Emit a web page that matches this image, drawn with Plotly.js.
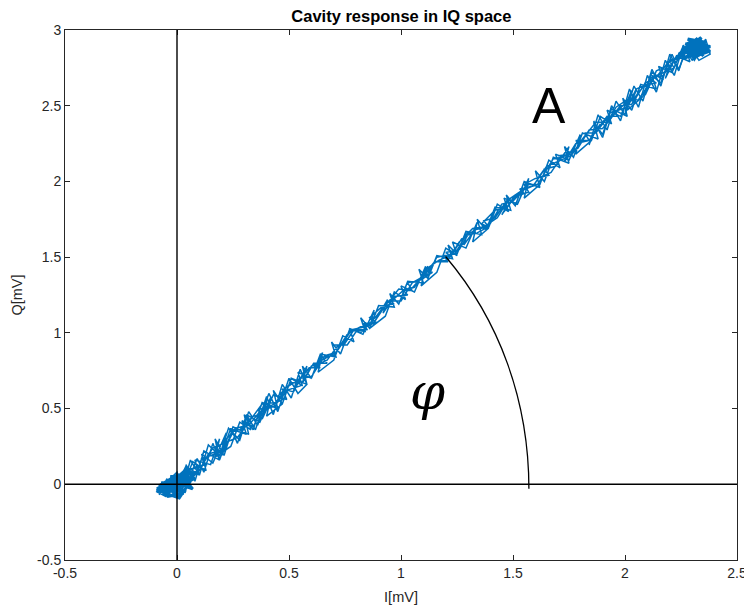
<!DOCTYPE html>
<html>
<head>
<meta charset="utf-8">
<script src="https://cdn.plot.ly/plotly-3.0.1.min.js"></script>
<style>html,body{margin:0;padding:0;background:#fff;}#chart{width:744px;height:607px;}</style>
</head>
<body>
<div id="chart"></div>
<script>
// ---- data (I, Q in mV) ----
const iOriginBlob = [-0.08,-0.04,0.03,-0.07,0.06,0.01,-0.09,0.05,-0.03,0.08,-0.06,0.02,0.07,-0.05,0.04,-0.08,0.00,0.09,-0.02,0.05,-0.07,0.03,-0.01,0.06,-0.09,0.02];
const qOriginBlob = [-0.02,-0.08,-0.06,0.01,0.02,-0.09,-0.04,0.07,0.05,0.04,-0.07,0.06,-0.03,0.03,-0.05,-0.01,0.06,0.08,-0.06,0.11,-0.05,0.03,-0.08,0.09,-0.03,0.00];

const iEndBlob = [2.25,2.36,2.28,2.38,2.30,2.34,2.24,2.37,2.27,2.35,2.31,2.38,2.26,2.33,2.36,2.29,2.23,2.32,2.37,2.28,2.35];
const qEndBlob = [2.86,2.92,2.94,2.86,2.82,2.95,2.84,2.90,2.91,2.83,2.93,2.89,2.81,2.88,2.85,2.92,2.80,2.94,2.87,2.84,2.90];

const iPassA = [0.05,0.11,0.16,0.22,0.27,0.33,0.38,0.44,0.49,0.55,0.60,0.66,0.71,0.77,0.82,0.88,0.93,0.99,1.04,1.10,1.15,1.21,1.26,1.32,1.37,1.43,1.48,1.54,1.59,1.65,1.70,1.76,1.81,1.87,1.92,1.98,2.03,2.09,2.14,2.20,2.25];
const qPassA = [0.09,0.12,0.24,0.28,0.31,0.43,0.53,0.54,0.62,0.65,0.78,0.83,0.87,1.00,1.04,1.07,1.18,1.29,1.28,1.38,1.47,1.48,1.60,1.69,1.70,1.76,1.88,1.94,1.97,2.10,2.13,2.17,2.28,2.39,2.39,2.50,2.51,2.65,2.69,2.80,2.83];

const iPassB = [2.28,2.24,2.17,2.13,2.06,2.01,1.95,1.90,1.84,1.79,1.72,1.68,1.61,1.57,1.50,1.45,1.39,1.34,1.27,1.23,1.16,1.12,1.05,1.00,0.94,0.89,0.82,0.78,0.71,0.66,0.60,0.55,0.48,0.44,0.37,0.32,0.26,0.21,0.14,0.10,0.03];
const qPassB = [2.82,2.84,2.70,2.69,2.54,2.53,2.44,2.35,2.34,2.22,2.16,2.15,1.98,1.98,1.87,1.85,1.70,1.69,1.62,1.52,1.50,1.39,1.33,1.21,1.21,1.11,1.00,1.02,0.87,0.85,0.71,0.70,0.63,0.52,0.48,0.39,0.37,0.23,0.20,0.09,0.05];

const iPassC = [0.00,0.05,0.03,0.09,0.13,0.11,0.17,0.22,0.20,0.26,0.30,0.28,0.34,0.39,0.36,0.42,0.47,0.45,0.51,0.55,0.53,0.59,0.64,0.61,0.67,0.72,0.70,0.76,0.80,0.78,0.84,0.89,0.86,0.92,0.97,0.95,1.01,1.05,1.03,1.09,1.14,1.11,1.17,1.22,1.20,1.26,1.30,1.28,1.34,1.39,1.36,1.42,1.47,1.45,1.51,1.55,1.53,1.59,1.64,1.61,1.67,1.72,1.70,1.76,1.80,1.78,1.84,1.89,1.86,1.92,1.97,1.95,2.01,2.05,2.03,2.09,2.14,2.11,2.17,2.22,2.20,2.26,2.30];
const qPassC = [0.01,0.03,0.08,0.12,0.13,0.17,0.20,0.24,0.27,0.36,0.36,0.36,0.45,0.46,0.49,0.52,0.56,0.58,0.67,0.67,0.66,0.77,0.77,0.78,0.82,0.92,0.92,0.92,1.01,1.02,1.04,1.07,1.10,1.18,1.19,1.20,1.28,1.28,1.33,1.35,1.40,1.42,1.48,1.51,1.53,1.55,1.65,1.64,1.66,1.70,1.72,1.81,1.83,1.78,1.91,1.92,1.95,1.97,2.08,2.02,2.06,2.17,2.17,2.18,2.25,2.27,2.27,2.38,2.31,2.43,2.43,2.46,2.49,2.60,2.53,2.64,2.65,2.68,2.72,2.75,2.79,2.83,2.89];

const iPassD = [2.33,2.27,2.29,2.23,2.18,2.20,2.14,2.09,2.11,2.05,2.00,2.02,1.96,1.91,1.93,1.87,1.82,1.84,1.78,1.73,1.75,1.69,1.64,1.66,1.60,1.55,1.57,1.51,1.46,1.48,1.42,1.37,1.39,1.33,1.28,1.30,1.24,1.19,1.21,1.15,1.10,1.12,1.06,1.01,1.03,0.97,0.92,0.94,0.88,0.83,0.85,0.79,0.74,0.76,0.70,0.65,0.67,0.61,0.56,0.58,0.52,0.47,0.49,0.43,0.38,0.40,0.34,0.29,0.31,0.25,0.20,0.22,0.16,0.11,0.13,0.07,0.02,0.04,-0.02];
const qPassD = [2.86,2.89,2.79,2.83,2.68,2.77,2.73,2.57,2.65,2.61,2.46,2.55,2.49,2.36,2.44,2.32,2.32,2.27,2.25,2.13,2.23,2.10,2.08,2.04,2.02,1.98,1.93,1.90,1.80,1.89,1.76,1.74,1.70,1.68,1.58,1.67,1.52,1.51,1.47,1.47,1.37,1.44,1.30,1.28,1.25,1.24,1.13,1.22,1.07,1.06,1.02,1.02,0.91,0.99,0.85,0.84,0.80,0.80,0.67,0.78,0.61,0.63,0.56,0.59,0.43,0.55,0.38,0.42,0.33,0.36,0.19,0.34,0.14,0.20,0.09,0.15,-0.05,0.10,-0.07];

const iPassE = [0.04,0.10,0.08,0.15,0.19,0.17,0.24,0.28,0.33,0.31,0.37,0.42,0.40,0.47,0.51,0.56,0.54,0.60,0.65,0.63,0.70,0.74,0.79,0.77,0.83,0.88,0.86,0.93,0.97,1.02,1.00,1.06,1.11,1.09,1.16,1.20,1.25,1.23,1.29,1.34,1.32,1.39,1.43,1.48,1.46,1.52,1.57,1.55,1.62,1.66,1.71,1.69,1.75,1.80,1.78,1.85,1.89,1.94,1.92,1.98,2.03,2.01,2.08,2.12,2.17,2.15,2.21,2.26,2.30];
const qPassE = [0.12,0.06,0.16,0.13,0.30,0.18,0.25,0.41,0.36,0.46,0.41,0.58,0.45,0.53,0.70,0.65,0.74,0.70,0.87,0.74,0.82,0.98,0.94,1.03,0.99,1.15,1.03,1.11,1.27,1.22,1.31,1.27,1.44,1.31,1.40,1.56,1.51,1.60,1.56,1.73,1.60,1.69,1.85,1.80,1.89,1.85,2.02,1.89,1.98,2.14,2.09,2.18,2.14,2.31,2.18,2.27,2.43,2.38,2.47,2.43,2.60,2.47,2.56,2.72,2.67,2.76,2.72,2.89,2.80];

const iPassF = [2.34,2.29,2.24,2.21,2.16,2.12,2.14,2.07,2.03,1.99,2.01,1.94,1.90,1.86,1.88,1.81,1.77,1.73,1.75,1.68,1.64,1.60,1.62,1.55,1.51,1.47,1.49,1.42,1.38,1.34,1.36,1.29,1.25,1.21,1.23,1.16,1.12,1.08,1.10,1.03,0.99,0.95,0.97,0.90,0.86,0.82,0.84,0.77,0.73,0.69,0.71,0.64,0.60,0.56,0.58,0.51,0.47,0.43,0.45,0.38,0.34,0.30,0.32,0.25,0.21,0.17,0.19,0.12,0.08,0.04,0.06,-0.01,-0.05];
const qPassF = [2.84,2.93,2.74,2.84,2.65,2.70,2.61,2.64,2.47,2.55,2.43,2.48,2.31,2.39,2.28,2.32,2.16,2.23,2.12,2.16,2.00,2.07,1.96,2.00,1.84,1.91,1.81,1.83,1.68,1.75,1.65,1.67,1.52,1.58,1.49,1.51,1.36,1.42,1.33,1.34,1.19,1.26,1.17,1.18,1.03,1.10,1.01,1.02,0.86,0.94,0.84,0.86,0.70,0.78,0.66,0.70,0.53,0.62,0.50,0.54,0.36,0.46,0.33,0.38,0.19,0.30,0.16,0.22,0.02,0.13,-0.02,0.06,-0.08];

const iPassG = [-0.09,0.00,0.03,0.09,0.12,0.16,0.19,0.24,0.27,0.31,0.35,0.40,0.43,0.47,0.51,0.55,0.58,0.54,0.50,0.45,0.41,0.36,0.32,0.28,0.23,0.19,0.14,0.10,0.06,0.02,-0.03,-0.08];
const qPassG = [-0.05,0.08,-0.05,0.17,0.08,0.27,0.16,0.37,0.27,0.46,0.36,0.58,0.46,0.66,0.57,0.76,0.66,0.60,0.70,0.48,0.60,0.39,0.48,0.29,0.37,0.19,0.26,0.06,0.16,-0.05,0.04,-0.07];

const iPassH = [1.86,1.90,1.94,1.98,2.02,2.06,2.10,2.14,2.18,2.22,2.26,2.31,2.36,2.38,2.33,2.28,2.24,2.20,2.16,2.12,2.08,2.04,2.00,1.96,1.92,1.88,1.84];
const qPassH = [2.40,2.29,2.50,2.40,2.61,2.49,2.70,2.59,2.80,2.70,2.90,2.80,2.94,2.84,2.80,2.92,2.73,2.84,2.63,2.74,2.53,2.63,2.44,2.53,2.34,2.44,2.24];

const xTicks = [-0.5, 0, 0.5, 1, 1.5, 2, 2.5];
const yTicks = [-0.5, 0, 0.5, 1, 1.5, 2, 2.5, 3];
const xTickText = ['-0.5','0','0.5','1','1.5','2','2.5'];
const yTickText = ['-0.5','0','0.5','1','1.5','2','2.5','3'];

// annotation geometry (angle arc, circular on screen)
const arcStart = [1.571, -0.03];
const arcC1 = [1.571, 0.551];
const arcC2 = [1.440, 1.083];
const arcEnd = [1.199, 1.504];

const I = [].concat(iPassA, iPassB, iPassC, iPassD, iPassE, iPassF, iPassG);
const Q = [].concat(qPassA, qPassB, qPassC, qPassD, qPassE, qPassF, qPassG);

const blue = '#0072BD';
function lineTrace(x, y, w) {
  return {x: x, y: y, type: 'scatter', mode: 'lines', line: {color: blue, width: w}, hoverinfo: 'skip', showlegend: false};
}
const traces = [
  lineTrace(I, Q, 1.5),
  lineTrace(iPassH, qPassH, 1.5),
  lineTrace(iOriginBlob, qOriginBlob, 3),
  lineTrace(iEndBlob, qEndBlob, 3)
];

const tickFont = {family: 'Liberation Sans, Arial', size: 14, color: '#262626'};
const axisCommon = {
  showgrid: false, zeroline: false, showline: true, mirror: 'ticks',
  linecolor: '#262626', linewidth: 1, ticks: 'inside', ticklen: 5,
  tickcolor: '#262626', tickfont: tickFont, tickmode: 'array', ticklabeloverflow: 'allow'
};

const layout = {
  width: 744, height: 607,
  margin: {l: 65, r: 7, t: 30, b: 47},
  paper_bgcolor: '#fff', plot_bgcolor: '#fff',
  title: {text: '<b>Cavity response in IQ space</b>', x: 0.5395, xanchor: 'center', y: 0.974, yanchor: 'middle',
          font: {family: 'Liberation Sans, Arial', size: 16.5, color: '#000'}},
  xaxis: Object.assign({}, axisCommon, {range: [-0.5, 2.5], tickvals: xTicks, ticktext: xTickText,
          title: {text: 'I[mV]', standoff: 12, font: {family: 'Liberation Sans, Arial', size: 14.5, color: '#262626'}}}),
  yaxis: Object.assign({}, axisCommon, {range: [-0.5, 3], tickvals: yTicks, ticktext: yTickText,
          title: {text: 'Q[mV]', standoff: 11, font: {family: 'Liberation Sans, Arial', size: 14.5, color: '#262626'}}}),
  shapes: [
    {type: 'line', xref: 'x', yref: 'paper', x0: 0, x1: 0, y0: 0, y1: 1, layer: 'above', line: {color: '#000', width: 1.4}},
    {type: 'line', xref: 'paper', yref: 'y', x0: 0, x1: 1, y0: 0, y1: 0, layer: 'above', line: {color: '#000', width: 1.4}},
    {type: 'path', xref: 'x', yref: 'y', layer: 'above', line: {color: '#000', width: 1.3},
     path: 'M ' + arcStart.join(',') + ' C ' + arcC1.join(',') + ' ' + arcC2.join(',') + ' ' + arcEnd.join(',')}
  ],
  annotations: [
    {x: 1.66, y: 2.50, xref: 'x', yref: 'y', text: 'A', showarrow: false,
     font: {family: 'Liberation Sans, Arial', size: 50, color: '#000'}},
    {x: 1.12, y: 0.61, xref: 'x', yref: 'y', text: '<i>φ</i>', showarrow: false,
     font: {family: 'DejaVu Serif', size: 50, color: '#000'}}
  ]
};

Plotly.newPlot('chart', traces, layout, {staticPlot: true, displayModeBar: false});
</script>
</body>
</html>
